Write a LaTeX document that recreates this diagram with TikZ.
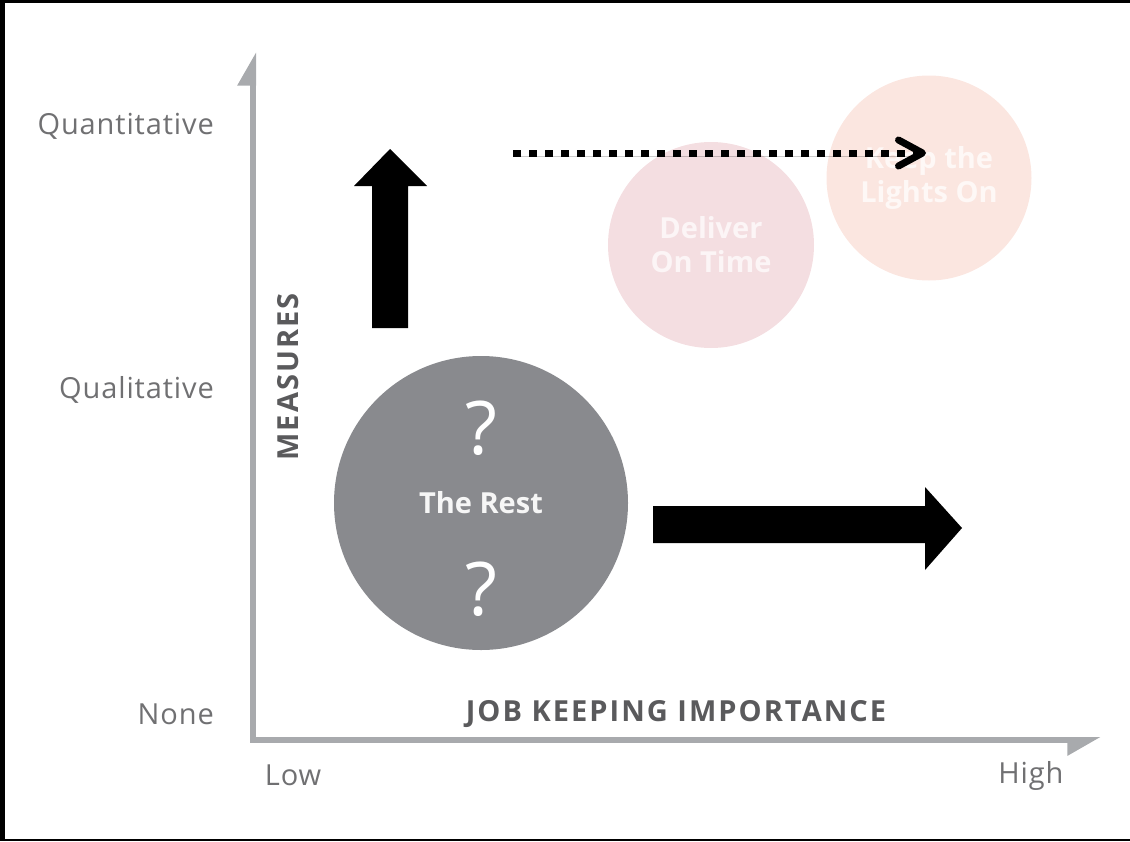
\documentclass[tikz,border=0pt]{standalone}
\usepackage{fontspec}
\setmainfont{Open Sans}
\usetikzlibrary{arrows.meta,positioning}

\definecolor{axisgray}{HTML}{A8AAAD}
\definecolor{labgray}{HTML}{707072}
\definecolor{titlegray}{HTML}{5A5A5C}
\definecolor{restgray}{HTML}{898A8E}
\definecolor{deliverpink}{HTML}{F4DEE1}
\definecolor{lightspeach}{HTML}{FBE6E0}

\tikzset{
  axis/.style={line width=6pt, draw=axisgray, line cap=rect},
  lab/.style={text=labgray, font=\fontsize{29}{32}\selectfont\addfontfeature{LetterSpace=3}, inner sep=0pt},
  axistitle/.style={text=titlegray, font=\bfseries\fontsize{29}{32}\selectfont\addfontfeature{LetterSpace=7}, inner sep=0pt},
  bubble/.style={circle, inner sep=0pt, align=center, font=\bfseries\fontsize{29}{34}\selectfont},
  qmark/.style={text=white, font=\fontsize{74}{74}\selectfont, inner sep=0pt},
  dotarrow/.style={line width=7pt, dash pattern=on 8pt off 8pt,
    -{Straight Barb[length=24pt, width=26pt, line cap=round, line join=round]},
    preaction={draw=black, opacity=0.2, transform canvas={yshift=-3pt}}},
}

\begin{document}
\begin{tikzpicture}[x=1pt, y=-1pt]
    \useasboundingbox (0,0) rectangle (1130,841);
    % frame
    \fill[black] (0,0) rectangle (5,841);
    \fill[black] (0,0) rectangle (1130,3);
    \fill[black] (0,839) rectangle (1130,841);

    % axes
    \coordinate (o) at (253,740);
    \coordinate (ytop) at (253,52);
    \coordinate (xend) at (1101,740);
    \draw[axis, -{Triangle[left, length=28pt, width=30pt]}] (o) -- (ytop);
    \draw[axis, -{Triangle[right, length=28pt, width=30pt]}] (o) -- (xend);

    \node[lab, anchor=east] (quant) at (214,126) {Quantitative};
    \node[lab, anchor=east] (qual) at (214,390) {Qualitative};
    \node[lab, anchor=east] (none) at (214,714) {None};
    \node[lab] (low) at (293,775) {Low};
    \node[lab] (high) at (1031,776) {High};
    \node[axistitle, rotate=90] (measures) at (288,377) {MEASURES};
    \node[axistitle] (jki) at (676,714) {JOB KEEPING IMPORTANCE};

    % bubbles
    \node[bubble, fill=restgray, text=white!92!restgray, minimum size=294pt] (rest) at (481,503) {The Rest};
    \node[qmark] (q1) at ([yshift=75pt]rest.center) {?};
    \node[qmark] (q2) at ([yshift=-86pt]rest.center) {?};
    \node[bubble, fill=deliverpink, text=white!70!deliverpink, minimum size=206pt] (deliver) at (711,245) {Deliver\\On Time};
    \node[bubble, fill=lightspeach, text=white!70!lightspeach, minimum size=205pt] (lights) at (929,178) {Keep the\\Lights On};

    % block arrows
    \fill[black] (372,328) -- (372,186) -- (354,186) -- (390,149) -- (427,186) -- (408,186) -- (408,328) -- cycle;
    \fill[black] (653,506) -- (925,506) -- (925,487) -- (962,528) -- (925,570) -- (925,543) -- (653,543) -- cycle;

    % dotted arrow
    \coordinate (dstart) at (513,153);
    \coordinate (dend) at (926,153);
    \draw[dotarrow] (dstart) -- (dend);
\end{tikzpicture}
\end{document}
